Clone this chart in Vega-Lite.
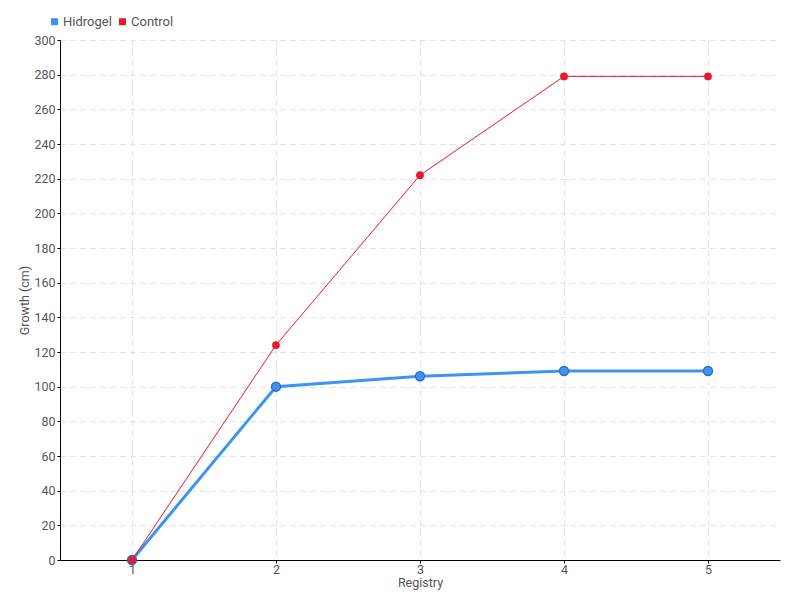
{
  "$schema": "https://vega.github.io/schema/vega-lite/v6.json",
  "width": 720,
  "height": 520,
  "autosize": {"type": "none"},
  "padding": {"left": 60, "top": 40, "right": 20, "bottom": 40},
  "background": "white",
  "config": {
    "view": {"stroke": null},
    "font": "Roboto",
    "axis": {"labelFont": "Roboto", "titleFont": "Roboto"}
  },
  "data": {
    "values": [
      {"registry": "1", "series": "Hidrogel", "growth": 0},
      {"registry": "2", "series": "Hidrogel", "growth": 100},
      {"registry": "3", "series": "Hidrogel", "growth": 106},
      {"registry": "4", "series": "Hidrogel", "growth": 109},
      {"registry": "5", "series": "Hidrogel", "growth": 109},
      {"registry": "1", "series": "Control", "growth": 0},
      {"registry": "2", "series": "Control", "growth": 124},
      {"registry": "3", "series": "Control", "growth": 222},
      {"registry": "4", "series": "Control", "growth": 279},
      {"registry": "5", "series": "Control", "growth": 279}
    ]
  },
  "encoding": {
    "x": {
      "field": "registry", "type": "ordinal",
      "scale": {"type": "point", "padding": 0.5},
      "axis": {
        "title": "Registry", "titleFontSize": 12.5, "titleFontWeight": "normal", "titleColor": "#555",
        "titlePadding": 1, "labelAngle": 0, "labelFontSize": 12.5, "labelColor": "#555", "labelPadding": 0,
        "domainColor": "#000", "tickColor": "#000", "tickSize": 3,
        "grid": true, "gridDash": [5, 5], "gridColor": "#e0e0e0"
      }
    },
    "y": {
      "field": "growth", "type": "quantitative",
      "scale": {"domain": [0, 300], "nice": false},
      "axis": {
        "title": "Growth (cm)", "titleFontSize": 12.5, "titleFontWeight": "normal", "titleColor": "#555",
        "titlePadding": 2, "values": [0,20,40,60,80,100,120,140,160,180,200,220,240,260,280,300],
        "labelFontSize": 12.5, "labelColor": "#555", "labelPadding": 2,
        "domainColor": "#000", "tickColor": "#000", "tickSize": 3,
        "grid": true, "gridDash": [5, 5], "gridColor": "#e0e0e0"
      }
    },
    "color": {
      "field": "series", "type": "nominal",
      "scale": {"domain": ["Hidrogel", "Control"], "range": ["#3f94f2", "#e8192c"]},
      "legend": {
        "title": null, "orient": "none", "legendX": -12, "legendY": -25, "direction": "horizontal",
        "symbolType": "square", "symbolSize": 30, "labelFontSize": 13, "labelColor": "#555",
        "labelFont": "Roboto", "symbolOffset": 0, "labelOffset": 2, "columnPadding": 4
      }
    }
  },
  "layer": [
    {
      "transform": [{"filter": "datum.series === 'Hidrogel'"}],
      "mark": {"type": "line", "strokeWidth": 3}
    },
    {
      "transform": [{"filter": "datum.series === 'Hidrogel'"}],
      "mark": {"type": "point", "filled": true, "size": 80, "opacity": 1, "stroke": "#2a6fc4", "strokeWidth": 1.5}
    },
    {
      "transform": [{"filter": "datum.series === 'Control'"}],
      "mark": {"type": "line", "strokeWidth": 1}
    },
    {
      "transform": [{"filter": "datum.series === 'Control'"}],
      "mark": {"type": "point", "filled": true, "size": 60, "opacity": 1}
    }
  ]
}
